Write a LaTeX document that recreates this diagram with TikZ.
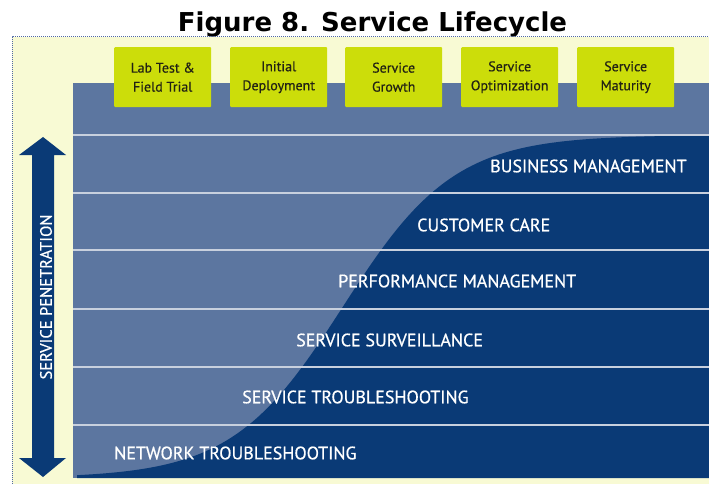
\documentclass[tikz,border=0pt]{standalone}
\usepackage{fontspec}
\setmainfont{PT Sans}
\newfontfamily\titlefont{DejaVu Sans}
\newfontfamily\labelfont{PT Sans}[FakeBold=0.6]
\newfontfamily\boxfont{PT Sans}[FakeBold=0.5]
\definecolor{panelbg}{RGB}{248,250,212}
\definecolor{panelline}{RGB}{80,105,165}
\definecolor{lightblue}{RGB}{92,118,160}
\definecolor{darkblue}{RGB}{10,58,118}
\definecolor{stripline}{RGB}{200,208,222}
\definecolor{phasegreen}{RGB}{204,221,10}
\definecolor{phasetext}{RGB}{34,34,20}
\tikzset{
  phasebox/.style={fill=phasegreen, rounded corners=1pt, minimum width=97pt, minimum height=60pt,
    inner sep=0pt, anchor=north west, text=phasetext, font=\boxfont\fontsize{14}{19}\selectfont, align=center},
  layerlabel/.style={text=white, font=\labelfont\fontsize{18}{20}\selectfont, anchor=west, inner sep=0pt},
  arrowlabel/.style={text=white, font=\labelfont\fontsize{16.5}{18}\selectfont, rotate=90, inner sep=0pt},
  titlestyle/.style={font=\titlefont\bfseries\fontsize{26}{28}\selectfont, text=black, inner sep=0pt, anchor=base}
}
\begin{document}
\begin{tikzpicture}[x=1pt,y=-1pt]
\useasboundingbox (0,0) rectangle (709,484);
\fill[white] (0,0) rectangle (709,484);
% title
\node[titlestyle] (title) at (372.5,32) {Figure 8. Service Lifecycle};
% panel
\fill[panelbg] (12,37) rectangle (712,484);
\draw[panelline, densely dotted, line width=1pt] (12,484) -- (12,37) -- (712,37);
% blue area
\fill[lightblue] (73,83) rectangle (712,478);
% S-curve dark region
\fill[darkblue] (77,478) -- plot[domain=77:712, samples=120]
  (\x, {478-343/(1+exp(-0.018*(\x-343)))}) -- (712,478) -- cycle;
% strip lines
\foreach \yy in {135,193,250,309,367,425}
  \draw[stripline, line width=1.4pt] (73,\yy) -- (712,\yy);
% phase boxes
\node[phasebox] (p1) at (114,47) {Lab Test \&\\Field Trial};
\node[phasebox] (p2) at (230,47) {Initial\\Deployment};
\node[phasebox] (p3) at (345,47) {Service\\Growth};
\node[phasebox] (p4) at (461,47) {Service\\Optimization};
\node[phasebox] (p5) at (577,47) {Service\\Maturity};
% layer labels
\node[layerlabel] (l6) at (490,166) {BUSINESS MANAGEMENT};
\node[layerlabel] (l5) at (417,225) {CUSTOMER CARE};
\node[layerlabel] (l4) at (338,281) {PERFORMANCE MANAGEMENT};
\node[layerlabel] (l3) at (296,340) {SERVICE SURVEILLANCE};
\node[layerlabel] (l2) at (242,397) {SERVICE TROUBLESHOOTING};
\node[layerlabel] (l1) at (114,453) {NETWORK TROUBLESHOOTING};
% double arrow
\fill[darkblue] (43,137) -- (66,155) -- (54,155) -- (54,458) -- (66,458) -- (43,477)
  -- (19,458) -- (32,458) -- (32,155) -- (19,155) -- cycle;
\node[arrowlabel] (pen) at (46,297) {SERVICE PENETRATION};
\end{tikzpicture}
\end{document}
